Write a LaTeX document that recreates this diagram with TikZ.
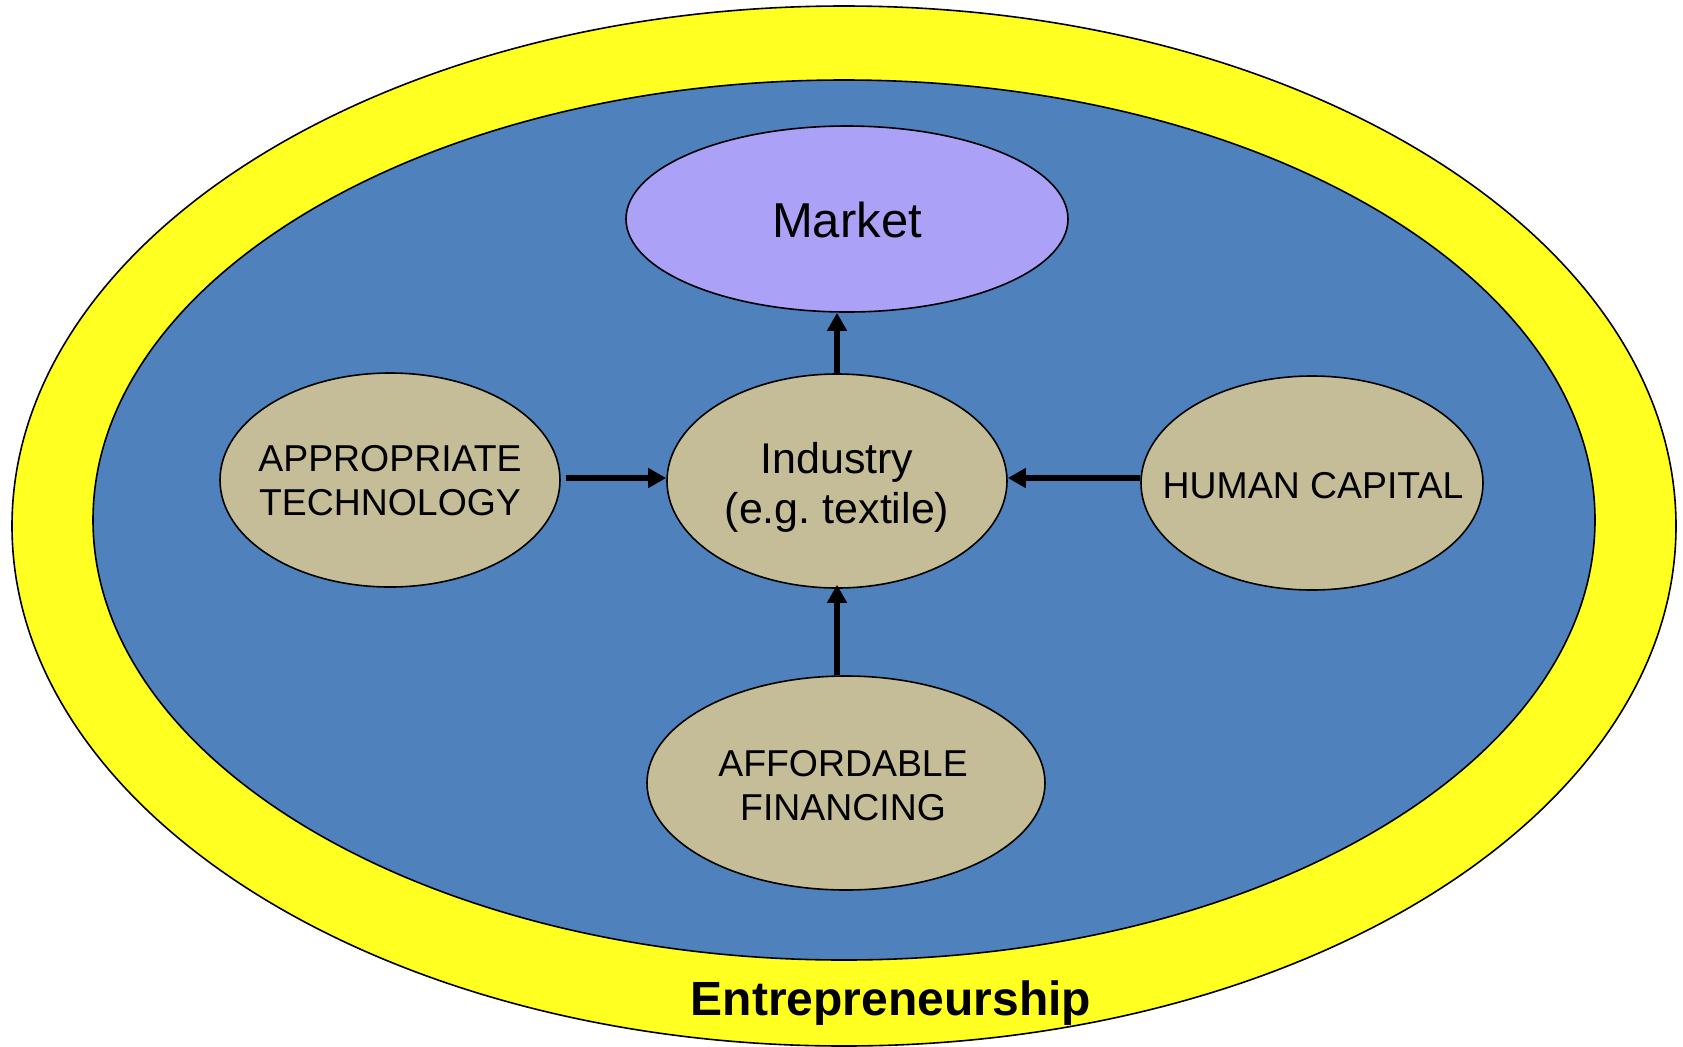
\documentclass[tikz,border=0pt]{standalone}
\usepackage{fontspec}
\setmainfont{Liberation Sans}
\usetikzlibrary{shapes.geometric,arrows.meta}
\definecolor{ringyellow}{RGB}{255,255,34}
\definecolor{fieldblue}{RGB}{79,129,189}
\definecolor{tanfill}{RGB}{196,189,151}
\definecolor{mktfill}{RGB}{171,161,247}
\begin{document}
\begin{tikzpicture}[x=0.5pt,y=-0.5pt,
  blob/.style={ellipse, draw, line width=0.8pt, fill=tanfill, inner sep=0pt},
  lbl/.style={align=center, font=\fontsize{18.7pt}{22pt}\selectfont},
  feed/.style={line width=2.8pt, -{Triangle[length=9pt,width=9.5pt]}}]
\useasboundingbox (0,0) rectangle (1683,1046);
% rings
\draw[line width=0.8pt, fill=ringyellow] (844,526) ellipse [x radius=416pt, y radius=260pt];
\draw[line width=0.8pt, fill=fieldblue] (844,520) ellipse [x radius=375.5pt, y radius=220pt];
\node[font=\fontsize{24pt}{27pt}\selectfont\bfseries] (ent) at (891,1003){Entrepreneurship};
% nodes
\node[blob, fill=mktfill, minimum width=221pt, minimum height=93pt] (mkt) at (847,219){};
\node[blob, minimum width=170pt, minimum height=107pt] (tech) at (390,480){};
\node[blob, minimum width=170pt, minimum height=107pt] (ind) at (837,481){};
\node[blob, minimum width=171pt, minimum height=107pt] (hum) at (1312,483){};
\node[blob, minimum width=199pt, minimum height=107pt] (fin) at (846,783){};
\node[font=\fontsize{24.5pt}{28pt}\selectfont] (mkttxt) at (847,219.5){Market};
\node[lbl] (techtxt) at (390,481){APPROPRIATE\\TECHNOLOGY};
\node[lbl, font=\fontsize{21.5pt}{25pt}\selectfont] (indtxt) at (837,487){Industry\\(e.g.\ textile)};
\node[lbl] (humtxt) at (1313,486){HUMAN CAPITAL};
\node[lbl] (fintxt) at (843,786){AFFORDABLE\\FINANCING};
% arrows
\draw[feed] (ind.north) -- (ind.north |- mkt.south);
\draw[feed, shorten <=2.5pt] ([yshift=1pt]tech.east) -- ([yshift=1pt]tech.east -| ind.west);
\draw[feed] ([yshift=2.5pt]hum.west) -- ([yshift=2.5pt]hum.west -| ind.east);
\draw[feed, shorten >=-2pt] (ind.south |- fin.north) -- (ind.south);
\end{tikzpicture}
\end{document}
